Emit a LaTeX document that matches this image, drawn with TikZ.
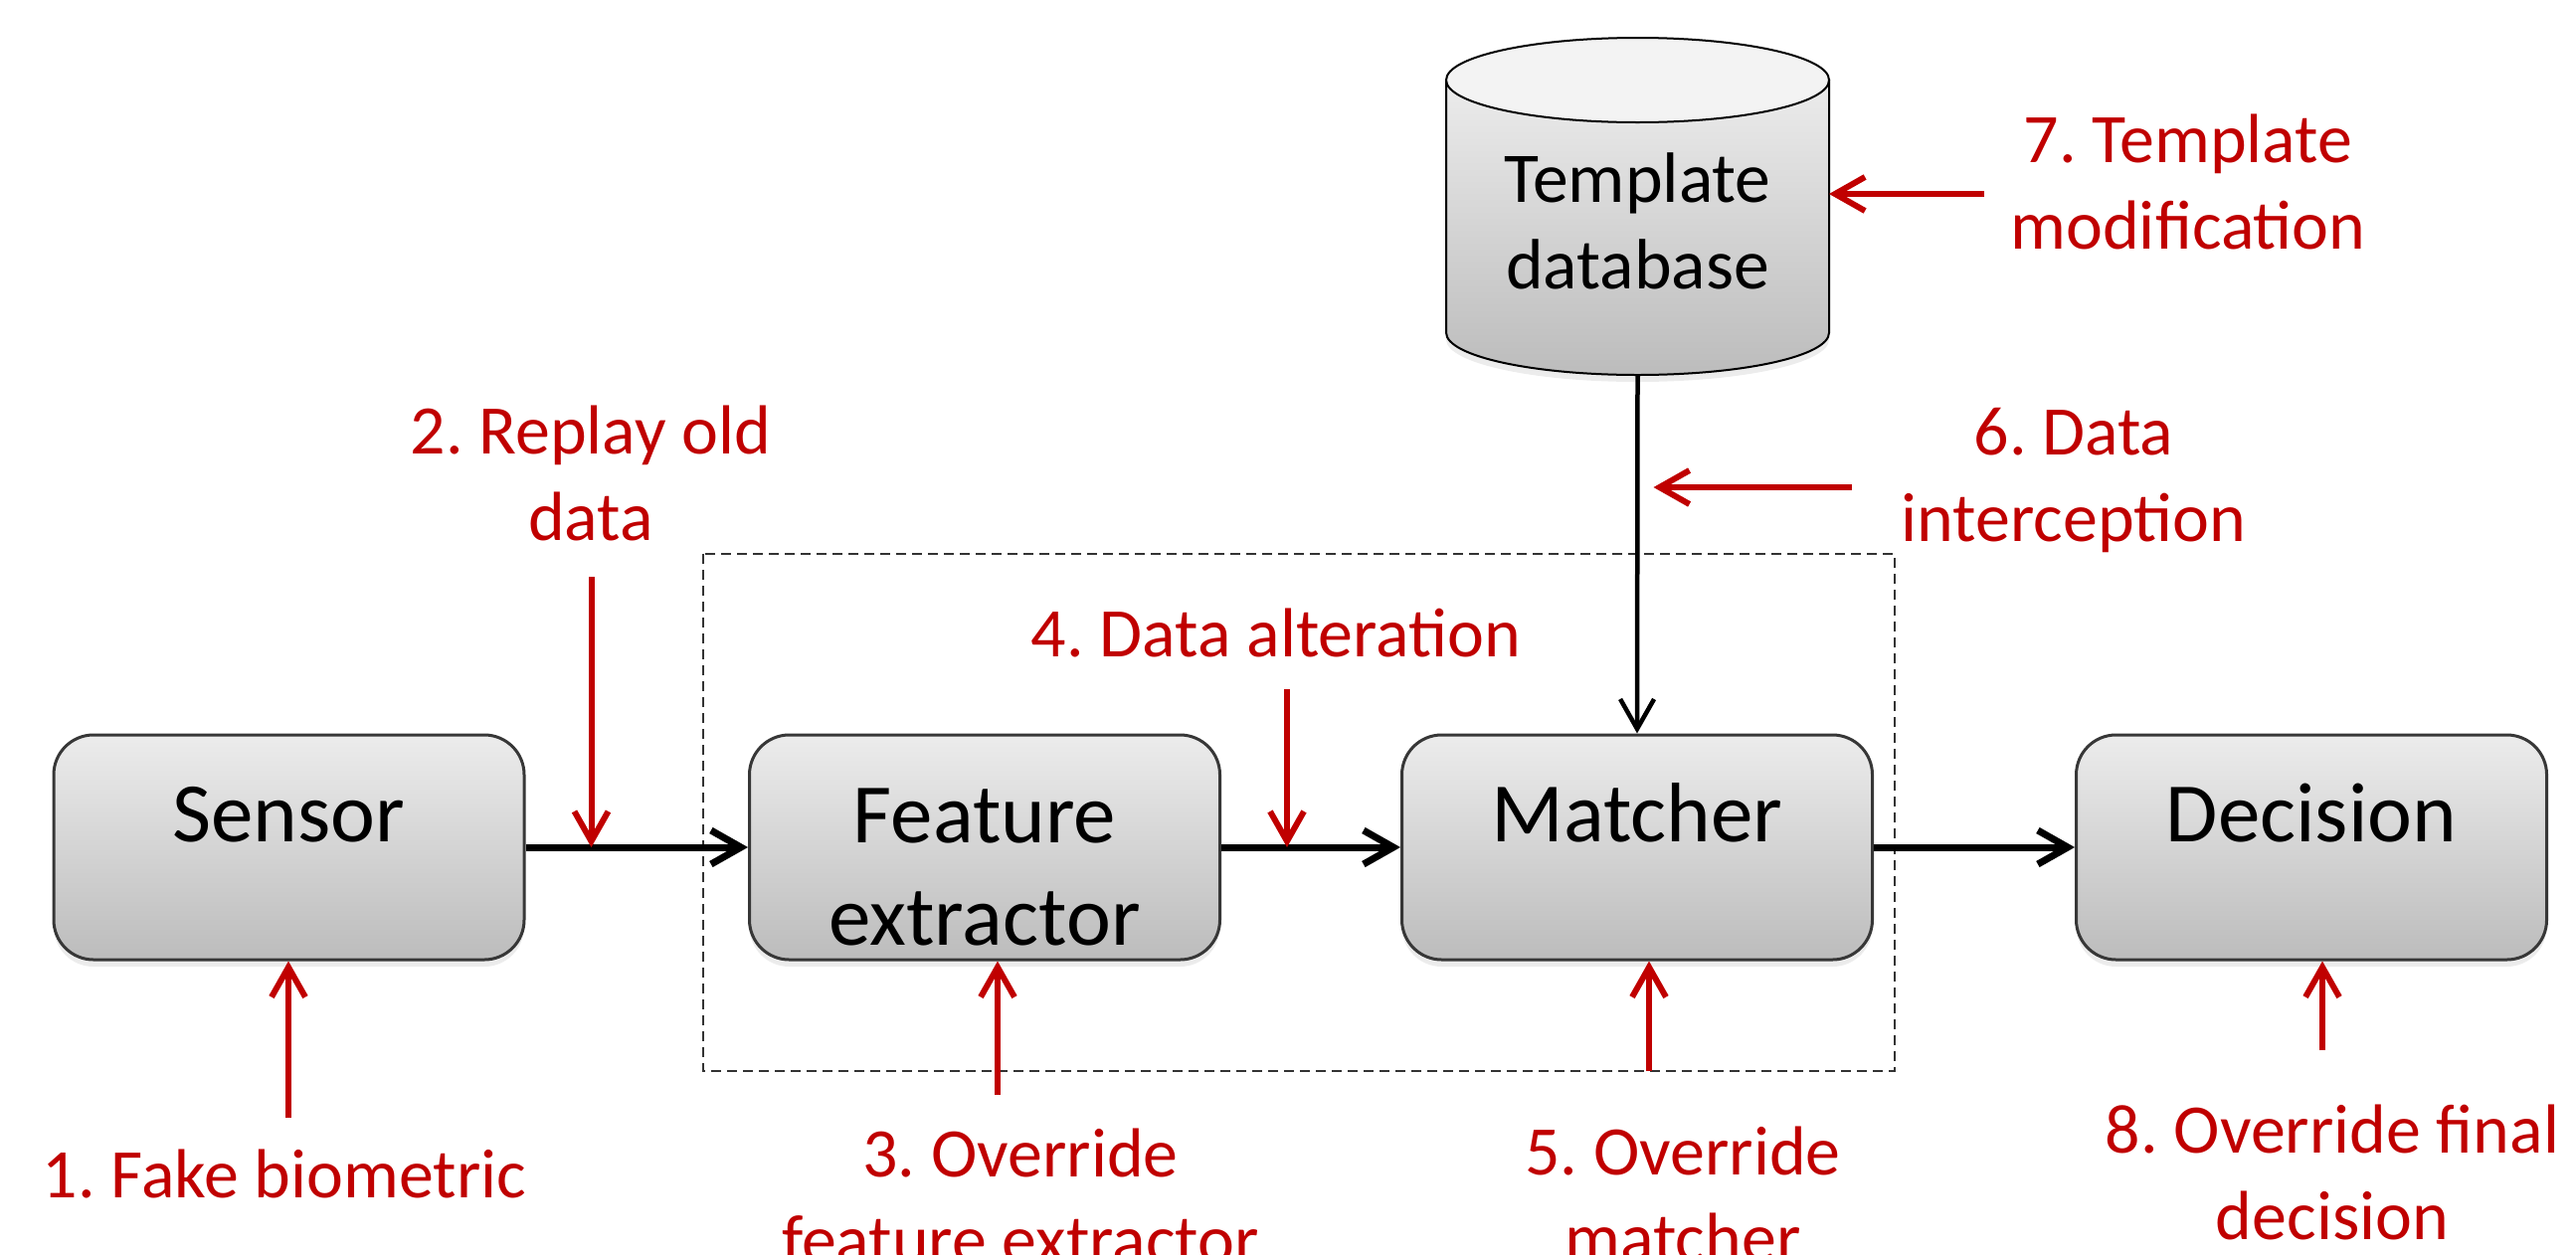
\documentclass[tikz,border=0pt]{standalone}
\usepackage{fontspec}
\setmainfont{Carlito}
\frenchspacing
\usetikzlibrary{arrows.meta,shadows,backgrounds}
\definecolor{atkred}{RGB}{192,0,0}
\definecolor{boxtop}{RGB}{236,236,236}
\definecolor{boxbot}{RGB}{188,188,188}
\definecolor{boxline}{RGB}{55,55,55}
\definecolor{dbend}{RGB}{243,243,243}

\begin{document}
\begin{tikzpicture}[>={Straight Barb[length=0.3cm,width=0.34cm]},
    blk/.style={draw=boxline, line width=0.03cm, rounded corners=0.4cm,
        top color=boxtop, bottom color=boxbot,
        minimum width=4.73cm, minimum height=2.26cm, inner sep=0pt,
        align=center, text height=0.62cm, text depth=0.74cm,
        font=\fontsize{24.2}{29.3}\selectfont,
        drop shadow={opacity=0.15, shadow xshift=0cm, shadow yshift=-0.07cm}},
    store/.style={minimum width=3.85cm, minimum height=3.39cm,
        inner sep=0pt, outer sep=0pt, align=center,
        text height=1.65cm, text depth=0cm,
        font=\fontsize{20.4}{24.75}\selectfont},
    atk/.style={atkred, font=\fontsize{19.9}{24.75}\selectfont, align=center, anchor=base},
    flow/.style={->, line width=0.07cm},
    hit/.style={->, atkred, line width=0.06cm}]
    \useasboundingbox (0,0) rectangle (25.90,-12.61);

    % 1. Khung nét đứt quanh bộ trích đặc trưng và bộ so khớp
    \draw[dash pattern=on 0.1cm off 0.06cm, line width=0.02cm, black!80]
        (7.07,-5.57) rectangle (19.05,-10.77);

    % 2. Các khối chính
    \node[blk] (sensor) at (2.905,-8.52) {Sensor};
    \node[blk, text height=1.96cm, text depth=0cm] (feat) at (9.90,-8.52) {Feature\\extractor};
    \node[blk] (match) at (16.46,-8.52) {Matcher};
    \node[blk] (dec) at (23.24,-8.52) {Decision};

    % Cơ sở dữ liệu mẫu (hình trụ vẽ phía sau chữ)
    \node[store] (tdb) at (16.465,-2.075) {Template\\database};
    \begin{scope}[on background layer]
        \draw[line width=0.02cm, top color=boxtop, bottom color=boxbot,
            drop shadow={opacity=0.15, shadow xshift=0cm, shadow yshift=-0.07cm}]
            ([yshift=-0.425cm]tdb.north west) -- ([yshift=0.425cm]tdb.south west)
            arc[start angle=180, end angle=360, x radius=1.925cm, y radius=0.425cm]
            -- ([yshift=-0.425cm]tdb.north east) -- cycle;
        \draw[fill=dbend, line width=0.02cm] ([yshift=-0.425cm]tdb.north)
            ellipse [x radius=1.925cm, y radius=0.425cm];
    \end{scope}

    % 3. Luồng dữ liệu
    \draw[flow] (sensor) -- (feat);
    \draw[flow] (feat) -- (match);
    \draw[flow] (match) -- (dec);
    \draw[->, line width=0.045cm] (tdb.south) -- (match.north);

    % 4. Điểm tấn công
    \coordinate (a1) at (2.90,-11.24);
    \coordinate (a2) at (5.945,-5.80);
    \coordinate (a3) at (10.03,-11.01);
    \coordinate (a4) at (12.94,-6.93);
    \coordinate (a5) at (16.58,-10.77);
    \coordinate (a6) at (18.62,-4.90);
    \coordinate (a7) at (19.95,-1.95);
    \coordinate (a8) at (23.35,-10.56);

    \draw[hit] (a1) -- (a1 |- sensor.south);
    \draw[hit] (a2) -- (a2 |- sensor.east);
    \draw[hit] (a3) -- (a3 |- feat.south);
    \draw[hit] (a4) -- (a4 |- feat.east);
    \draw[hit] (a5) -- (a5 |- match.south);
    \draw[hit, shorten >=0.16cm] (a6) -- (a6 -| tdb.south);
    \draw[hit] (a7) -- (a7 -| tdb.east);
    \draw[hit] (a8) -- (a8 |- dec.south);

    % Nhãn các kiểu tấn công
    \node[atk] (l1) at (2.86,-12.04) {1. Fake biometric};
    \node[atk] (l2) at (5.94,-5.43) {2. Replay old\\data};
    \node[atk] (l3) at (10.26,-12.70) {3. Override\\feature extractor};
    \node[atk] (l4) at (12.83,-6.60) {4. Data alteration};
    \node[atk] (l5) at (16.92,-12.68) {5. Override\\matcher};
    \node[atk] (l6) at (20.85,-5.44) {6. Data\\interception};
    \node[atk] (l7) at (22.00,-2.50) {7. Template\\modification};
    \node[atk] (l8) at (23.45,-12.46) {8. Override final\\decision};
\end{tikzpicture}
\end{document}
